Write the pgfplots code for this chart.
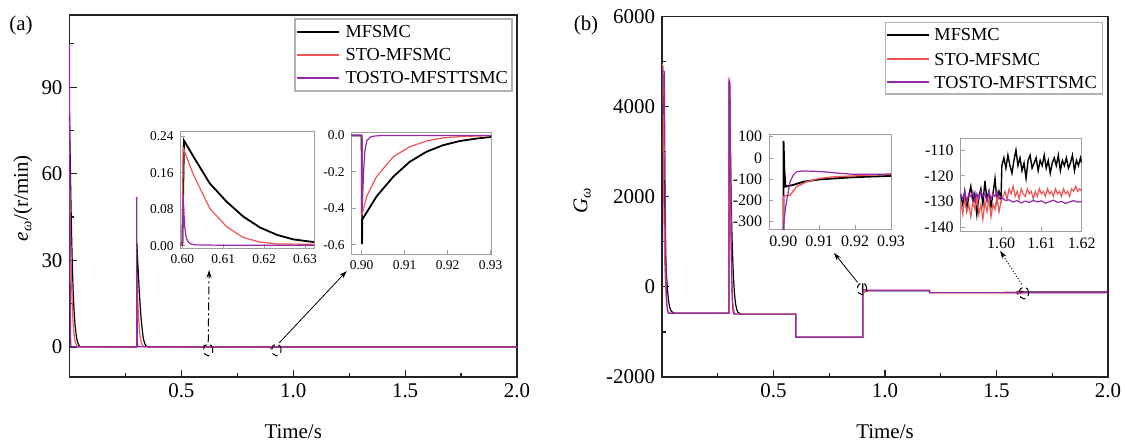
\documentclass[border=0pt]{standalone}
\usepackage{fontspec}
\setmainfont{Liberation Serif}
\usepackage{pgfplots}
\pgfplotsset{compat=1.18}
\usepackage{pgfplotstable}
\usetikzlibrary{arrows.meta}
\definecolor{cred}{RGB}{240,85,85}
\definecolor{cpur}{RGB}{150,40,170}
\definecolor{cframe}{RGB}{35,35,35}

% ---------- panel (a): speed error ----------
\pgfplotstableread{
t e
0 80
0.003 66
0.006 52
0.009 40
0.012 30
0.016 20
0.02 13
0.025 7.5
0.03 4
0.035 2
0.04 0.9
0.045 0.3
0.05 0.05
0.299 0
0.3 0
0.301 36
0.304 31
0.308 25
0.312 19
0.316 14
0.32 10
0.325 6
0.33 3
0.335 1.5
0.34 0.6
0.345 0.2
0.35 0.02
0.59 0.002
0.5995 0.002
0.6 0.002
0.6004 0.231
0.6027 0.196
0.6067 0.137
0.6108 0.097
0.6149 0.064
0.619 0.040
0.6231 0.024
0.6271 0.014
0.6322 0.008
0.64 0.004
0.66 0.001
0.89 -0.001
0.8995 -0.001
0.9 -0.001
0.9001 -0.596
0.90016 -0.461
0.9035 -0.334
0.9074 -0.226
0.9112 -0.145
0.9151 -0.090
0.919 -0.054
0.9229 -0.031
0.9267 -0.018
0.9301 -0.009
0.95 -0.002
2 0
}\eblack
\pgfplotstableread{
t e
0 63
0.003 48
0.006 34
0.009 23
0.012 15
0.016 8.5
0.02 4.5
0.025 2
0.03 0.8
0.035 0.2
0.04 0.02
0.299 0
0.3 0
0.301 25
0.304 18
0.308 11
0.312 6.5
0.316 3.5
0.32 1.8
0.325 0.7
0.33 0.2
0.335 0.03
0.59 0.002
0.5995 0.002
0.6 0.002
0.6002 0.215
0.6027 0.156
0.6067 0.082
0.6108 0.042
0.6149 0.018
0.619 0.008
0.6231 0.004
0.6322 0.003
0.65 0.001
0.89 -0.001
0.8995 -0.001
0.9 -0.001
0.9001 -0.434
0.9012 -0.334
0.9035 -0.226
0.9074 -0.117
0.9112 -0.063
0.9151 -0.031
0.919 -0.014
0.9229 -0.007
0.9298 -0.002
0.94 0
2 0
}\ered
\pgfplotstableread{
t e
0 105
0.001 70
0.002 40
0.003 20
0.004 9
0.005 3
0.006 1
0.008 0.1
0.3 0
0.3005 52
0.301 30
0.302 12
0.303 4
0.304 1
0.306 0.1
0.59 0.001
0.5995 0.001
0.6 0.001
0.6002 0.112
0.6004 0.07
0.6006 0.04
0.6009 0.02
0.6013 0.01
0.602 0.004
0.603 0.002
0.61 0.001
0.64 0.001
0.89 0
0.8995 0
0.9 0
0.9001 -0.42
0.9003 -0.3
0.9005 -0.18
0.9008 -0.08
0.9012 -0.03
0.902 -0.01
0.903 -0.004
0.905 -0.001
0.95 0
2 0
}\epur

% ---------- panel (b): G ----------
\pgfplotstableread{
t g
0 4750
0.004 4700
0.007 3500
0.01 2200
0.013 1300
0.016 700
0.02 250
0.025 -100
0.03 -330
0.035 -460
0.04 -530
0.05 -575
0.06 -585
0.2995 -585
0.3 4550
0.303 4400
0.306 3200
0.31 1900
0.315 900
0.32 250
0.325 -150
0.33 -380
0.335 -500
0.34 -560
0.35 -600
0.36 -605
0.5995 -605
0.6 -1120
0.8999 -1120
0.9 -1120
0.90005 80
0.9003 -60
0.9006 -135
0.9028 -127
0.9056 -112
0.9102 -101
0.9148 -96
0.9194 -91
0.9241 -88
0.9296 -85
0.95 -85
1.1995 -86
1.2 -128
1.5900 -127
1.5905 -131
1.5910 -126
1.5915 -133
1.5920 -128
1.5925 -124
1.5930 -130
1.5935 -127
1.5940 -135
1.5945 -128
1.5950 -125
1.5955 -131
1.5960 -122
1.5965 -129
1.5970 -126
1.5975 -132
1.5980 -127
1.5985 -121
1.5990 -130
1.5995 -126
1.6000 -129
1.6002 -116
1.6007 -113
1.6012 -117
1.6017 -112
1.6022 -116
1.6027 -119
1.6032 -114
1.6037 -110
1.6042 -116
1.6047 -113
1.6052 -118
1.6057 -115
1.6062 -121
1.6067 -114
1.6072 -112
1.6077 -117
1.6082 -115
1.6087 -113
1.6092 -118
1.6097 -114
1.6102 -116
1.6107 -112
1.6112 -117
1.6117 -114
1.6122 -119
1.6127 -115
1.6132 -113
1.6137 -116
1.6142 -112
1.6147 -118
1.6152 -114
1.6157 -116
1.6162 -113
1.6167 -117
1.6172 -115
1.6177 -112
1.6182 -118
1.6187 -114
1.6192 -116
1.6197 -113
1.6200 -115
2 -115
}\gblack
\pgfplotstableread{
t g
0 4950
0.004 4900
0.006 3000
0.009 1500
0.012 600
0.016 0
0.02 -350
0.025 -520
0.03 -570
0.035 -585
0.2995 -585
0.3 4650
0.302 4500
0.305 2500
0.309 1000
0.313 100
0.317 -350
0.322 -540
0.328 -600
0.335 -605
0.5995 -605
0.6 -1120
0.8999 -1120
0.9 -1120
0.90005 -180
0.9019 -175
0.9037 -135
0.9065 -112
0.9102 -96
0.9148 -88
0.9194 -85
0.9241 -80
0.9296 -77
0.95 -78
1.1995 -78
1.2 -132
1.5900 -130
1.5905 -135
1.5910 -129
1.5915 -134
1.5920 -131
1.5925 -136
1.5930 -130
1.5935 -133
1.5940 -128
1.5945 -135
1.5950 -131
1.5955 -137
1.5960 -130
1.5965 -134
1.5970 -129
1.5975 -136
1.5980 -131
1.5985 -133
1.5990 -128
1.5995 -134
1.6000 -130
1.6005 -128
1.6010 -126
1.6015 -129
1.6020 -125
1.6025 -127
1.6030 -124
1.6035 -128
1.6040 -126
1.6045 -129
1.6050 -125
1.6055 -127
1.6060 -128
1.6065 -125
1.6070 -127
1.6075 -126
1.6080 -129
1.6085 -126
1.6090 -128
1.6095 -125
1.6100 -127
1.6105 -126
1.6110 -128
1.6115 -125
1.6120 -127
1.6125 -126
1.6130 -128
1.6135 -125
1.6140 -127
1.6145 -126
1.6150 -128
1.6155 -125
1.6160 -127
1.6165 -126
1.6170 -128
1.6175 -125
1.6180 -126
1.6185 -124
1.6190 -126
1.6195 -125
1.6200 -126
2 -126
}\gred
\pgfplotstableread{
t g
0 4800
0.01 4780
0.013 3000
0.016 1200
0.019 0
0.022 -400
0.026 -560
0.03 -585
0.2995 -585
0.3 -585
0.302 4600
0.305 4500
0.308 2800
0.311 1000
0.314 -100
0.317 -500
0.321 -600
0.33 -605
0.5995 -605
0.6 -1120
0.8999 -1120
0.9 -1120
0.90005 -330
0.90046 -250
0.9009 -205
0.9019 -110
0.9028 -80
0.9037 -65
0.9056 -61
0.9102 -64
0.9148 -71
0.9194 -77
0.9241 -77
0.9296 -76
0.95 -76
1.1995 -76
1.2 -128
1.5900 -127
1.5905 -129
1.5910 -126
1.5915 -130
1.5920 -127
1.5925 -128
1.5930 -126
1.5935 -130
1.5940 -127
1.5945 -129
1.5950 -126
1.5955 -128
1.5960 -127
1.5965 -130
1.5970 -126
1.5975 -129
1.5980 -127
1.5985 -128
1.5990 -126
1.5995 -129
1.6000 -128
1.6010 -129.5
1.6020 -129.3
1.6030 -130.2
1.6040 -129.6
1.6050 -130.5
1.6060 -129.8
1.6070 -130.3
1.6080 -129.5
1.6090 -130.1
1.6100 -129.7
1.6110 -130.6
1.6120 -130.0
1.6130 -129.4
1.6140 -130.3
1.6150 -129.9
1.6160 -130.7
1.6170 -130.1
1.6180 -129.6
1.6190 -130.2
1.6200 -130.0
2 -130
}\gpur

\pgfplotsset{
  mainax/.style={
    scale only axis, anchor=north west, clip=false,
    axis line style={cframe,line width=0.75bp},
    tick align=inside, tick pos=left,
    major tick length=3.5bp, minor tick length=2bp,
    every tick/.style={cframe,line width=0.6bp},
    tick label style={font=\fontsize{10.5}{12}\selectfont},
    label style={font=\fontsize{10.5}{12}\selectfont},
    /pgf/number format/assume math mode=true,
    /pgf/number format/1000 sep={},
    xmin=0, xmax=2,
    xtick={0.5,1,1.5,2}, minor xtick={0.25,0.75,1.25,1.75},
    xticklabel style={/pgf/number format/.cd,fixed,fixed zerofill,precision=1},
    xlabel={Time/s},
    x label style={at={(axis description cs:0.5,0)},anchor=center,yshift=-27.5bp},
  },
  insetax/.style={
    scale only axis, anchor=north west,
    axis line style={gray!75,line width=0.5bp},
    axis background/.style={fill=white},
    tick align=inside, tick pos=left,
    major tick length=2bp,
    every tick/.style={gray!75,line width=0.4bp},
    /pgf/number format/assume math mode=true,
  },
}
\tikzset{legtext/.style={anchor=west,inner sep=0pt,font=\fontsize{9.2}{10}\selectfont}}

\begin{document}
\begin{tikzpicture}
\useasboundingbox (0,0) rectangle (562.5bp,-221.5bp);

% ================= (a) main =================
\begin{axis}[mainax, at={(34.75bp,-7.5bp)}, width=223.75bp, height=181bp,
  ymin=-10.4, ymax=115, ytick={0,30,60,90}, minor ytick={15,45,75,105},
  ylabel={\textit{e}\textsubscript{\textit{ω}}/(r/min)},
  y label style={at={(axis description cs:-0.104,0.494)},anchor=center}]
\addplot[black, line width=0.6bp] table[x=t,y=e]{\eblack};
\addplot[cred, line width=0.6bp] table[x=t,y=e]{\ered};
\addplot[cpur, line width=0.6bp] table[x=t,y=e]{\epur};
% legend
\draw[gray!60, line width=0.6bp, fill=white] (axis description cs:0.504,0.790) rectangle (axis description cs:0.989,0.989);
\draw[black, line width=0.7bp] (axis description cs:0.508,0.953) -- (axis description cs:0.602,0.953);
\draw[cred, line width=0.7bp] (axis description cs:0.508,0.890) -- (axis description cs:0.602,0.890);
\draw[cpur, line width=0.7bp] (axis description cs:0.508,0.826) -- (axis description cs:0.602,0.826);
\node[legtext] at (axis description cs:0.616,0.953) {MFSMC};
\node[legtext] at (axis description cs:0.616,0.890) {STO-MFSMC};
\node[legtext] at (axis description cs:0.616,0.826) {TOSTO-MFSTTSMC};
% annotations
\draw[densely dashed, line width=0.5bp] (axis cs:0.62,-1) ellipse [x radius=2.3bp, y radius=3bp];
\draw[densely dashed, line width=0.5bp] (axis cs:0.925,-1) ellipse [x radius=2.3bp, y radius=3bp];
\draw[dash pattern=on 4bp off 1.5bp on 1bp off 1.5bp, line width=0.5bp, -{Stealth[length=4bp,width=2.5bp]}] (axis cs:0.62,1.6) -- (axis cs:0.624,26.7);
\draw[line width=0.4bp, -{Stealth[length=4bp,width=2.5bp]}] (axis cs:0.937,1.4) -- (axis cs:1.239,26.3);
\end{axis}

% inset a1
\begin{axis}[insetax, at={(90.35bp,-65.5bp)}, width=66.65bp, height=58.5bp,
  xmin=0.5996, xmax=0.6322, ymin=-0.005, ymax=0.252,
  restrict x to domain=0.59:0.65,
  xtick={0.60,0.61,0.62,0.63}, ytick={0,0.08,0.16,0.24},
  tick label style={font=\fontsize{6.75}{8}\selectfont},
  xticklabel style={/pgf/number format/.cd,fixed,fixed zerofill,precision=2},
  yticklabel style={/pgf/number format/.cd,fixed,fixed zerofill,precision=2}]
\addplot[black, line width=0.9bp] table[x=t,y=e]{\eblack};
\addplot[cred, line width=0.6bp] table[x=t,y=e]{\ered};
\addplot[cpur, line width=0.6bp] table[x=t,y=e]{\epur};
\end{axis}

% inset a2
\begin{axis}[insetax, at={(175.85bp,-66bp)}, width=69.65bp, height=61bp,
  xmin=0.8977, xmax=0.9301, ymin=-0.65, ymax=0.018,
  restrict x to domain=0.885:0.96,
  xtick={0.90,0.91,0.92,0.93}, ytick={0,-0.2,-0.4,-0.6},
  tick label style={font=\fontsize{6.75}{8}\selectfont},
  xticklabel style={/pgf/number format/.cd,fixed,fixed zerofill,precision=2},
  yticklabel style={/pgf/number format/.cd,fixed,fixed zerofill,precision=1}]
\addplot[black, line width=0.9bp] table[x=t,y=e]{\eblack};
\addplot[cred, line width=0.6bp] table[x=t,y=e]{\ered};
\addplot[cpur, line width=0.6bp] table[x=t,y=e]{\epur};
\end{axis}

% ================= (b) main =================
\begin{axis}[mainax, at={(331bp,-8.25bp)}, width=223bp, height=180.25bp,
  ymin=-2000, ymax=6000, ytick={-2000,0,2000,4000,6000}, minor ytick={-1000,1000,3000,5000},
  ylabel={\textit{G}\textsubscript{\textit{ω}}},
  y label style={at={(axis description cs:-0.179,0.49)},anchor=center}]
\addplot[black, line width=0.6bp] table[x=t,y=g]{\gblack};
\addplot[cred, line width=0.6bp] table[x=t,y=g]{\gred};
\addplot[cpur, line width=0.6bp] table[x=t,y=g]{\gpur};
% legend
\draw[gray!60, line width=0.6bp, fill=white] (axis description cs:0.501,0.785) rectangle (axis description cs:0.987,0.983);
\draw[black, line width=0.7bp] (axis description cs:0.504,0.949) -- (axis description cs:0.599,0.949);
\draw[cred, line width=0.7bp] (axis description cs:0.504,0.882) -- (axis description cs:0.599,0.882);
\draw[cpur, line width=0.7bp] (axis description cs:0.504,0.818) -- (axis description cs:0.599,0.818);
\node[legtext] at (axis description cs:0.610,0.949) {MFSMC};
\node[legtext] at (axis description cs:0.610,0.882) {STO-MFSMC};
\node[legtext] at (axis description cs:0.610,0.818) {TOSTO-MFSTTSMC};
% annotations
\draw[densely dashed, line width=0.5bp] (axis cs:0.897,-40) ellipse [x radius=2.3bp, y radius=3bp];
\draw[densely dashed, line width=0.5bp] (axis cs:1.623,-134) ellipse [x radius=2.3bp, y radius=3bp];
\draw[line width=0.4bp, -{Stealth[length=4bp,width=2.5bp]}] (axis cs:0.877,100) -- (axis cs:0.771,754);
\draw[densely dotted, line width=0.5bp, -{Stealth[length=4bp,width=2.5bp]}] (axis cs:1.613,60) -- (axis cs:1.516,800);
\end{axis}

% inset b1
\begin{axis}[insetax, at={(384.5bp,-67.5bp)}, width=61bp, height=47.15bp,
  xmin=0.896, xmax=0.93, ymin=-336, ymax=108,
  restrict x to domain=0.89:0.95,
  xtick={0.90,0.91,0.92,0.93}, ytick={100,0,-100,-200,-300},
  tick label style={font=\fontsize{8}{9}\selectfont},
  xticklabel style={/pgf/number format/.cd,fixed,fixed zerofill,precision=2}]
\addplot[black, line width=0.9bp] table[x=t,y=g]{\gblack};
\addplot[cred, line width=0.7bp] table[x=t,y=g]{\gred};
\addplot[cpur, line width=0.6bp] table[x=t,y=g]{\gpur};
\end{axis}

% inset b2
\begin{axis}[insetax, at={(480.35bp,-69bp)}, width=60.5bp, height=46.5bp,
  xmin=1.59, xmax=1.62, ymin=-141.4, ymax=-105.3,
  restrict x to domain=1.585:1.625,
  xtick={1.60,1.61,1.62}, ytick={-110,-120,-130,-140},
  tick label style={font=\fontsize{8}{9}\selectfont},
  xticklabel style={/pgf/number format/.cd,fixed,fixed zerofill,precision=2}]
\addplot[black, line width=0.7bp] table[x=t,y=g]{\gblack};
\addplot[cred, line width=0.6bp] table[x=t,y=g]{\gred};
\addplot[cpur, line width=0.6bp] table[x=t,y=g]{\gpur};
\end{axis}

\node[font=\fontsize{10.5}{12}\selectfont] at (10.5bp,-12.5bp) {(a)};
\node[font=\fontsize{10.5}{12}\selectfont] at (293bp,-12.5bp) {(b)};
\end{tikzpicture}
\end{document}
